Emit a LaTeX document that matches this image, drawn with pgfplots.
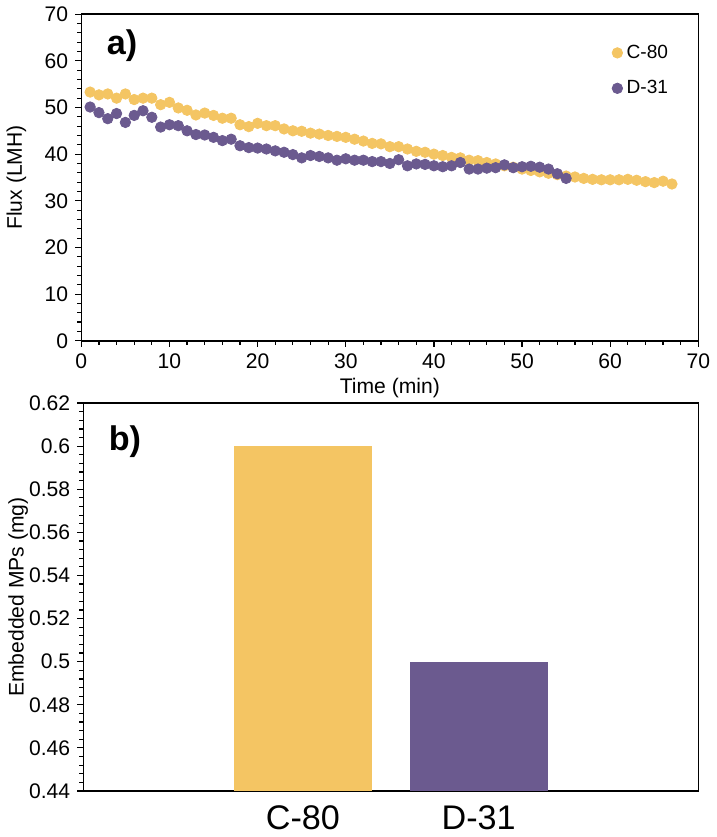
\documentclass[border=0pt]{standalone}
\usepackage{fontspec}
\setmainfont{Liberation Sans}
\usepackage{pgfplots}
\pgfplotsset{compat=1.18}

\definecolor{cgold}{RGB}{244,197,99}
\definecolor{cpurp}{RGB}{107,90,143}

\pgfplotstableread{
t flux
1 53.3
2 52.7
3 52.9
4 52.0
5 52.9
6 51.7
7 52.0
8 52.0
9 50.6
10 51.1
11 49.9
12 49.4
13 48.4
14 48.8
15 48.3
16 47.7
17 47.7
18 46.3
19 45.9
20 46.6
21 46.1
22 46.1
23 45.4
24 45.0
25 44.9
26 44.5
27 44.3
28 44.0
29 43.8
30 43.6
31 43.2
32 42.8
33 42.3
34 42.2
35 41.6
36 41.6
37 41.1
38 40.6
39 40.4
40 40.0
41 39.7
42 39.3
43 39.2
44 38.7
45 38.6
46 38.2
47 37.9
48 37.5
49 37.2
50 36.8
51 36.5
52 36.2
53 35.9
54 35.6
55 35.3
56 35.1
57 34.8
58 34.6
59 34.5
60 34.5
61 34.5
62 34.6
63 34.4
64 34.1
65 33.9
66 34.2
67 33.6
}\cdata

\pgfplotstableread{
t flux
1 50.1
2 48.9
3 47.6
4 48.7
5 46.8
6 48.3
7 49.3
8 47.9
9 45.8
10 46.3
11 46.1
12 45.0
13 44.2
14 44.1
15 43.6
16 42.9
17 43.2
18 41.8
19 41.4
20 41.3
21 41.1
22 40.7
23 40.4
24 39.9
25 39.2
26 39.7
27 39.5
28 39.2
29 38.7
30 39.0
31 38.7
32 38.7
33 38.4
34 38.4
35 38.0
36 38.8
37 37.5
38 37.9
39 37.8
40 37.5
41 37.3
42 37.5
43 38.2
44 36.8
45 36.8
46 37.0
47 37.1
48 37.7
49 37.1
50 37.3
51 37.4
52 37.2
53 36.8
54 35.8
55 34.8
}\ddata

\begin{document}
\begin{tikzpicture}
% panel a: flux over time
\begin{axis}[
    name=top, at={(0,0)}, anchor=south west,
    scale only axis, width=307pt, height=162.5pt,
    xmin=0, xmax=70, ymin=0, ymax=70,
    xtick={0,10,...,70}, ytick={0,10,...,70},
    minor x tick num=4, minor y tick num=4,
    xtick pos=bottom, ytick pos=left,
    tick align=outside,
    major tick length=3pt, minor tick length=2pt,
    every tick/.style={black, line width=0.6pt},
    axis line style={line width=0.8pt},
    /pgf/number format/assume math mode=true,
    tick label style={font=\fontsize{10.5}{12}\selectfont},
    label style={font=\fontsize{10.5}{12}\selectfont},
    xlabel={Time (min)}, ylabel={Flux (LMH)},
    xlabel style={at={(axis description cs:0.5,-0.145)}, anchor=center},
    ylabel style={at={(axis description cs:-0.105,0.5)}, anchor=center},
    legend style={draw=none, fill=none, at={(0.958,0.92)}, anchor=north east,
        font=\fontsize{9.5}{11}\selectfont, row sep=5.5pt, inner sep=0pt,
        /tikz/every even column/.append style={column sep=1pt}},
    legend cell align=left,
    legend image code/.code={\draw[mark size=2.6pt,#1] plot coordinates {(0.1cm,0cm)};},
]
\addplot[only marks, mark=*, mark size=2.6pt, cgold, mark options={draw=cgold, fill=cgold}] table[x=t,y=flux] {\cdata};
\addlegendentry{C-80}
\addplot[only marks, mark=*, mark size=2.6pt, cpurp, mark options={draw=cpurp, fill=cpurp}] table[x=t,y=flux] {\ddata};
\addlegendentry{D-31}
\node[anchor=west, font=\fontsize{17}{20}\selectfont\bfseries] at (rel axis cs:0.03,0.905) {a)};
\end{axis}

% panel b: embedded MPs
\begin{axis}[
    name=bot, at={(1pt,-31pt)}, anchor=north west,
    scale only axis, width=306pt, height=193pt,
    xmin=-0.25, xmax=3.25, ymin=0.44, ymax=0.62,
    xtick={1,2}, xticklabels={C-80,D-31},
    ytick={0.44,0.46,0.48,0.5,0.52,0.54,0.56,0.58,0.6,0.62},
    yticklabels={0.44,0.46,0.48,0.5,0.52,0.54,0.56,0.58,0.6,0.62},
    minor y tick num=4,
    ytick pos=left, tick align=outside,
    major x tick style={draw=none},
    major tick length=3pt, minor tick length=2pt,
    every tick/.style={black, line width=0.6pt},
    axis line style={line width=0.8pt},
    yticklabel style={font=\fontsize{10.5}{12}\selectfont},
    xticklabel style={font=\fontsize{17}{20}\selectfont, yshift=-1pt},
    ylabel={Embedded MPs (mg)},
    label style={font=\fontsize{10.5}{12}\selectfont},
    ylabel style={at={(axis description cs:-0.106,0.5)}, anchor=center},
    ybar, bar width=68.5pt,
]
\addplot[fill=cgold, draw=none, bar shift=0pt] coordinates {(1,0.6)};
\addplot[fill=cpurp, draw=none, bar shift=0pt] coordinates {(2,0.5)};
\node[anchor=west, font=\fontsize{17}{20}\selectfont\bfseries] at (rel axis cs:0.03,0.9) {b)};
\end{axis}
\end{tikzpicture}
\end{document}
